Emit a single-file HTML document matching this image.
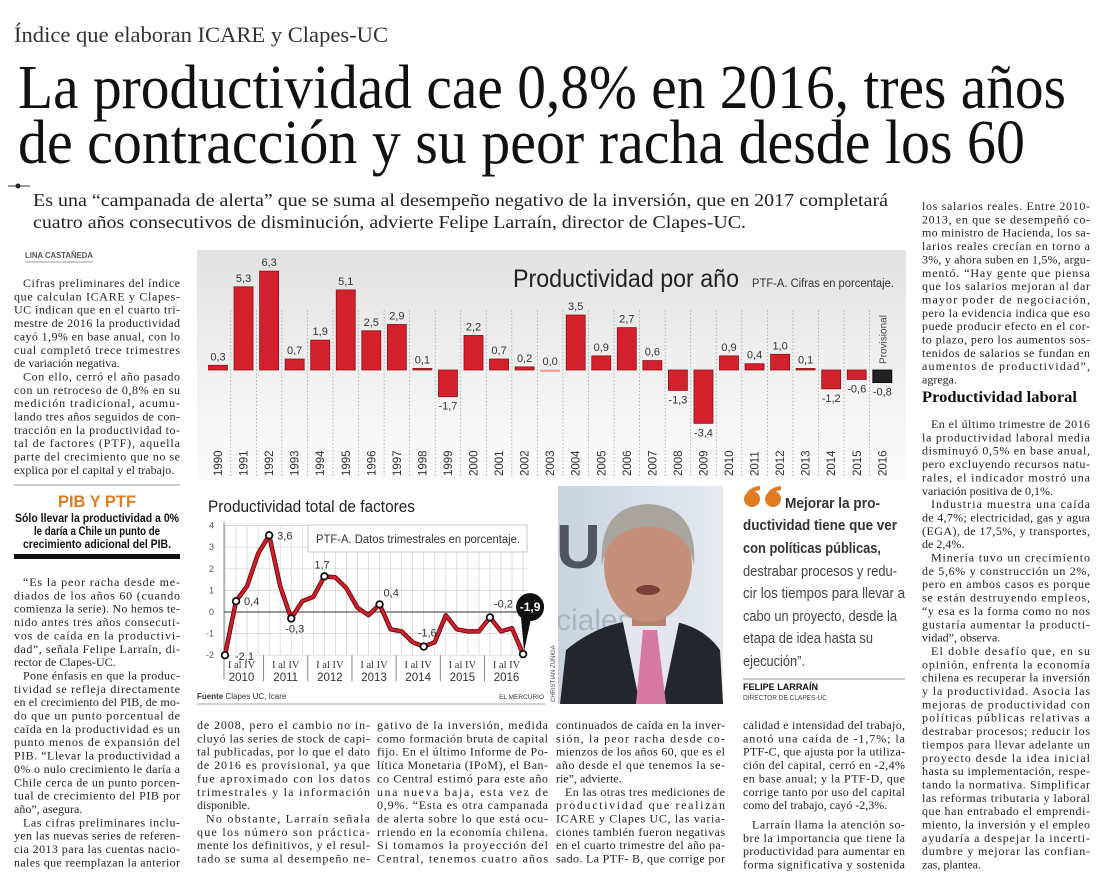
<!DOCTYPE html>
<html><head><meta charset="utf-8">
<style>
html,body{margin:0;padding:0;background:#fff;}
svg{display:block;}
.body{font-family:"Liberation Serif",serif;font-size:12px;fill:#222;}
.sans{font-family:"Liberation Sans",sans-serif;}
</style></head>
<body>
<svg id="page" width="1100" height="879" viewBox="0 0 1100 879" xmlns="http://www.w3.org/2000/svg">
<defs>
<linearGradient id="bgGrad" x1="0" y1="0" x2="0" y2="1">
<stop offset="0" stop-color="#e2e2e2"/><stop offset="0.6" stop-color="#f2f2f2"/><stop offset="1" stop-color="#fbfbfb"/>
</linearGradient>
<linearGradient id="photoBg" x1="0" y1="0" x2="1" y2="0">
<stop offset="0" stop-color="#c9d3e0"/><stop offset="1" stop-color="#e6eaf0"/>
</linearGradient>
<clipPath id="photoClip"><rect x="558" y="486" width="165" height="218"/></clipPath>
</defs>

<text x="14" y="42" font-family="Liberation Serif,serif" font-size="22" fill="#333" textLength="374" lengthAdjust="spacingAndGlyphs">Índice que elaboran ICARE y Clapes-UC</text>
<text x="18" y="108" font-family="Liberation Serif,serif" font-size="62" fill="#111" textLength="1048" lengthAdjust="spacingAndGlyphs">La productividad cae 0,8% en 2016, tres años</text>
<text x="18" y="163" font-family="Liberation Serif,serif" font-size="62" fill="#111" textLength="1007" lengthAdjust="spacingAndGlyphs">de contracción y su peor racha desde los 60</text>

<g><line x1="8" y1="186" x2="30" y2="186" stroke="#333" stroke-width="1"/><circle cx="18" cy="186" r="2.5" fill="#222"/></g>
<text x="33" y="206" font-family="Liberation Serif,serif" font-size="18" fill="#222" textLength="855" lengthAdjust="spacingAndGlyphs">Es una “campanada de alerta” que se suma al desempeño negativo de la inversión, que en 2017 completará</text>
<text x="33" y="228" font-family="Liberation Serif,serif" font-size="18" fill="#222" textLength="713" lengthAdjust="spacingAndGlyphs">cuatro años consecutivos de disminución, advierte Felipe Larraín, director de Clapes-UC.</text>

<text x="25" y="258" class="sans" font-size="8.5" font-weight="bold" fill="#555" textLength="68" lengthAdjust="spacingAndGlyphs">LINA CASTAÑEDA</text>
<line x1="25" y1="262" x2="93" y2="262" stroke="#777" stroke-width="0.8"/>

<line x1="14" y1="485" x2="180" y2="485" stroke="#999" stroke-width="1"/>
<text x="97" y="507" class="sans" font-size="17" font-weight="bold" fill="#e07b22" text-anchor="middle" textLength="78" lengthAdjust="spacingAndGlyphs">PIB Y PTF</text>
<text x="97" y="522" class="sans" font-size="12" font-weight="bold" fill="#111" text-anchor="middle" textLength="164" lengthAdjust="spacingAndGlyphs">Sólo llevar la productividad a 0%</text>
<text x="97" y="535" class="sans" font-size="12" font-weight="bold" fill="#111" text-anchor="middle" textLength="126" lengthAdjust="spacingAndGlyphs">le daría a Chile un punto de</text>
<text x="97" y="548" class="sans" font-size="12" font-weight="bold" fill="#111" text-anchor="middle" textLength="148" lengthAdjust="spacingAndGlyphs">crecimiento adicional del PIB.</text>
<rect x="14" y="554" width="166" height="5" fill="#111"/>

<g id="barChart">
<rect x="197" y="250" width="709" height="230" fill="url(#bgGrad)"/>
<text x="513" y="287" class="sans" font-size="25" fill="#222" textLength="226" lengthAdjust="spacingAndGlyphs">Productividad por año</text>
<text x="752" y="287" class="sans" font-size="11.5" fill="#333" textLength="142" lengthAdjust="spacingAndGlyphs">PTF-A. Cifras en porcentaje.</text>
</g>

<g id="lineChart">
<text x="208" y="512" class="sans" font-size="17" fill="#222" textLength="207" lengthAdjust="spacingAndGlyphs">Productividad total de factores</text>
</g>

<g clip-path="url(#photoClip)">
<rect x="558" y="486" width="165" height="218" fill="url(#photoBg)"/>
<text x="556" y="568" class="sans" font-size="62" font-weight="bold" fill="#3a3f4a" opacity="0.85">UC</text>
<text x="556" y="630" class="sans" font-size="30" fill="#aab4c2">ciales</text>
<path d="M560,704 L566,650 Q600,622 640,620 L660,620 Q700,622 720,650 L723,704 Z" fill="#24262d"/>
<path d="M622,618 L640,704 L662,704 L680,618 Z" fill="#e3e6ee"/>
<path d="M643,630 L657,630 L666,704 L636,704 Z" fill="#d679a0"/>
<rect x="632" y="590" width="34" height="36" fill="#b7826d"/>
<ellipse cx="648" cy="566" rx="44" ry="56" fill="#c4907a"/>
<path d="M602,566 Q598,506 648,504 Q698,506 694,566 Q688,528 648,526 Q608,528 602,566 Z" fill="#a9a49e"/>
<ellipse cx="648" cy="590" rx="12" ry="5" fill="#7a3f38"/>
</g>
<text transform="translate(555,702) rotate(-90)" class="sans" font-size="6" fill="#444">CHRISTIAN ZUÑIGA</text>

<g>
<g fill="#e07b22">
<circle cx="752" cy="499" r="8"/><path d="M745,497 Q748,487 760,486 L760,490 Q752,491 750,497 Z"/>
<circle cx="773" cy="499" r="8"/><path d="M766,497 Q769,487 781,486 L781,490 Q773,491 771,497 Z"/>
</g>
<text x="785" y="508" class="sans" font-size="15" font-weight="bold" fill="#333" textLength="95" lengthAdjust="spacingAndGlyphs">Mejorar la pro-</text>
<text x="743" y="530" class="sans" font-size="15" font-weight="bold" fill="#333" textLength="154" lengthAdjust="spacingAndGlyphs">ductividad tiene que ver</text>
<text x="743" y="553" class="sans" font-size="15" font-weight="bold" fill="#333" textLength="138" lengthAdjust="spacingAndGlyphs">con políticas públicas,</text>
<text x="743" y="576" class="sans" font-size="15" fill="#444" textLength="154" lengthAdjust="spacingAndGlyphs">destrabar procesos y redu-</text>
<text x="743" y="598" class="sans" font-size="15" fill="#444" textLength="162" lengthAdjust="spacingAndGlyphs">cir los tiempos para llevar a</text>
<text x="743" y="621" class="sans" font-size="15" fill="#444" textLength="154" lengthAdjust="spacingAndGlyphs">cabo un proyecto, desde la</text>
<text x="743" y="643" class="sans" font-size="15" fill="#444" textLength="130" lengthAdjust="spacingAndGlyphs">etapa de idea hasta su</text>
<text x="743" y="666" class="sans" font-size="15" fill="#444" textLength="62" lengthAdjust="spacingAndGlyphs">ejecución”.</text>
<line x1="743" y1="679" x2="905" y2="679" stroke="#999" stroke-width="1"/>
<text x="743" y="690" class="sans" font-size="9.5" font-weight="bold" fill="#111" textLength="75" lengthAdjust="spacingAndGlyphs">FELIPE LARRAÍN</text>
<text x="743" y="700" class="sans" font-size="7.5" fill="#444" textLength="84" lengthAdjust="spacingAndGlyphs">DIRECTOR DE CLAPES-UC</text>
</g>

<text x="922" y="402" font-family="Liberation Serif,serif" font-size="16" font-weight="bold" fill="#111" textLength="155" lengthAdjust="spacingAndGlyphs">Productividad laboral</text>

<g id="textCols"></g>
</svg>

<script>
const barYears = ["1990","1991","1992","1993","1994","1995","1996","1997","1998","1999","2000","2001","2002","2003","2004","2005","2006","2007","2008","2009","2010","2011","2012","2013","2014","2015","2016"];
const barValues = [0.3,5.3,6.3,0.7,1.9,5.1,2.5,2.9,0.1,-1.7,2.2,0.7,0.2,0.0,3.5,0.9,2.7,0.6,-1.3,-3.4,0.9,0.4,1.0,0.1,-1.2,-0.6,-0.8];
const barLabels = ["0,3","5,3","6,3","0,7","1,9","5,1","2,5","2,9","0,1","-1,7","2,2","0,7","0,2","0,0","3,5","0,9","2,7","0,6","-1,3","-3,4","0,9","0,4","1,0","0,1","-1,2","-0,6","-0,8"];

const qValues = [-2.0,0.5,1.2,2.7,3.55,1.2,-0.3,0.5,0.7,1.65,1.6,1.1,0.2,-0.15,0.35,-0.8,-0.9,-1.4,-1.6,-1.4,-0.15,-0.8,-0.9,-0.9,-0.25,-0.9,-0.75,-1.95];
const qMarkIdx = [0,1,4,6,9,14,18,24];
const qMarkLabels = ["-2,1","0,4","3,6","-0,3","1,7","0,4","-1,6","-0,2"];
const yTicks = [-2,-1,0,1,2,3,4];
const yearGroups = ["2010","2011","2012","2013","2014","2015","2016"];
const lastLabel = "-1,9";

const NS = "http://www.w3.org/2000/svg";
function mk(tag, attrs, parent){ const e=document.createElementNS(NS,tag); for(const k in attrs) e.setAttribute(k,attrs[k]); parent.appendChild(e); return e; }

(function(){
  const g = document.getElementById('barChart');
  const x = i => 218 + i*25.55;
  const y = v => 370 - v*15.7;
  const bw = 19;
  for(let i=0;i<barYears.length-1;i++){
    const sep = mk('line',{x1:x(i)+12.8,x2:x(i)+12.8,y1:310,y2:478,stroke:'#999','stroke-width':0.7,'stroke-dasharray':'1.5,2'},g);
    
    
  }
  barValues.forEach((v,i)=>{
    const last = i===barValues.length-1;
    const top = Math.min(y(v),y(0)), h = Math.max(Math.abs(y(v)-y(0)),1.5);
    const r = mk('rect',{x:x(i)-bw/2,y:top,width:bw,height:h,fill:last?'#222':(v===0?'#f19aa0':'#d2202c'),stroke:last?'#000':(v===0?'#f19aa0':'#8e1219'),'stroke-width':0.8},g);
    
    
    const ly = v>=0 ? y(v)-5 : y(v)+13;
    const t = mk('text',{x:x(i),y:ly,'text-anchor':'middle','font-family':'Liberation Sans,sans-serif','font-size':11,fill:'#333'},g);
    t.textContent = barLabels[i];
    
    
    const yl = mk('text',{transform:'translate('+(x(i)+4)+',476) rotate(-90)','font-family':'Liberation Sans,sans-serif','font-size':11.5,fill:'#333'},g);
    yl.textContent = barYears[i];
    
    
  });
  const pv = mk('text',{transform:'translate('+(x(barValues.length-1)+4)+',364) rotate(-90)','font-family':'Liberation Sans,sans-serif','font-size':10,fill:'#444'},g);
  pv.textContent='Provisional';
  
  
})();

(function(){
  const g = document.getElementById('lineChart');
  const L=224, R=528;
  const x = i => 225 + i*11.04;
  const y = v => 612 - v*21.6;
  for(let i=0;i<qValues.length;i++){
    const vl = mk('line',{x1:x(i),x2:x(i),y1:y(4),y2:y(-2),stroke:'#d0d0d0','stroke-width':0.7},g);
    
    
  }
  yTicks.forEach(v=>{
    const hl = mk('line',{x1:L,x2:R,y1:y(v),y2:y(v),stroke:v===0?'#333':'#d0d0d0','stroke-width':v===0?1:0.7},g);
    
    
    const t = mk('text',{x:214,y:y(v)+3,'text-anchor':'end','font-family':'Liberation Sans,sans-serif','font-size':9,fill:'#555'},g);
    t.textContent = v;
    
    
  });
  const ax = mk('line',{x1:L,x2:L,y1:y(4)-4,y2:y(-2)+24,stroke:'#666','stroke-width':0.8},g);
  
  
  yearGroups.forEach((yr,k)=>{
    const gx0 = 225 + (k*4-0.5)*11.04, gx1 = gx0 + 4*11.04;
    if(k>0){
      const s = mk('line',{x1:gx0,x2:gx0,y1:y(-2),y2:y(-2)+26,stroke:'#666','stroke-width':0.8},g);
      
      
    }
    const cx=(gx0+gx1)/2;
    const t1 = mk('text',{x:cx,y:668,'text-anchor':'middle','font-family':'Liberation Serif,serif','font-size':10.5,fill:'#333'},g);
    t1.textContent='I al IV';
    
    
    const t2 = mk('text',{x:cx,y:681,'text-anchor':'middle','font-family':'Liberation Sans,sans-serif','font-size':11.5,fill:'#333'},g);
    t2.textContent=yr;
    
    
  });
  const lb = mk('rect',{x:308,y:525,width:219,height:27,fill:'#fff',stroke:'#bbb','stroke-width':0.8},g);
  
  
  const lt = mk('text',{x:316,y:543,'font-family':'Liberation Sans,sans-serif','font-size':11.5,fill:'#333',textLength:204,lengthAdjust:'spacingAndGlyphs'},g);
  lt.textContent='PTF-A. Datos trimestrales en porcentaje.';
  
  
  const pts = qValues.map((v,i)=>x(i).toFixed(1)+','+y(v).toFixed(1)).join(' ');
  const l1 = mk('polyline',{points:pts,fill:'none',stroke:'#6d0a0f','stroke-width':4.5,'stroke-linejoin':'round','stroke-linecap':'round'},g);
  
  
  const l2 = mk('polyline',{points:pts,fill:'none',stroke:'#d11f2a','stroke-width':2.6,'stroke-linejoin':'round','stroke-linecap':'round'},g);
  
  
  const offs = [[10,5],[8,4],[8,4],[-6,14],[-10,-8],[4,-8],[-6,-10],[4,-10]];
  qMarkIdx.forEach((idx,k)=>{
    const c = mk('circle',{cx:x(idx),cy:y(qValues[idx]),r:3.3,fill:'#fff',stroke:'#111','stroke-width':1.8},g);
    
    
    const t = mk('text',{x:x(idx)+offs[k][0],y:y(qValues[idx])+offs[k][1],'font-family':'Liberation Sans,sans-serif','font-size':11,fill:'#333'},g);
    t.textContent = qMarkLabels[k];
    
    
  });
  const li = qValues.length-1, lx=x(li), ly=y(qValues[li]);
  const ptr = mk('path',{d:'M'+(lx+1)+','+(ly-3)+' L'+(lx-2)+','+(ly-36)+' L'+(lx+8)+','+(ly-36)+' Z',fill:'#111'},g);
  
  
  const cc = mk('circle',{cx:lx+7,cy:ly-47,r:14,fill:'#111'},g);
  
  
  const lp = mk('circle',{cx:lx,cy:ly,r:3.3,fill:'#fff',stroke:'#111','stroke-width':1.8},g);
  
  
  const ct = mk('text',{x:lx+7,y:ly-43,'text-anchor':'middle','font-family':'Liberation Sans,sans-serif','font-size':12,'font-weight':'bold',fill:'#fff'},g);
  ct.textContent = lastLabel;
  
  
  const fu = mk('text',{x:197,y:699,'font-family':'Liberation Sans,sans-serif','font-size':8,fill:'#333'},g);
  fu.innerHTML = '<tspan font-weight="bold">Fuente</tspan> Clapes UC, Icare';
  
  
  const em = mk('text',{x:544,y:699,'text-anchor':'end','font-family':'Liberation Sans,sans-serif','font-size':6.5,fill:'#333'},g);
  em.textContent='EL MERCURIO';
  
  
  const fr = mk('line',{x1:197,x2:545,y1:704,y2:704,stroke:'#888','stroke-width':0.8},g);
  
  
})();

const LH = 13.35;
function col(name, x0, x1, y0, paras){
  const g = document.getElementById('textCols');
  let y = y0;
  paras.forEach(p=>{
    if(p.gap) y += p.gap;
    p.l.forEach((ln,i)=>{
      const ind = (i===0 && !p.c) ? 9 : 0;
      const t = document.createElementNS(NS,'text');
      t.setAttribute('x', x0+ind);
      t.setAttribute('y', y.toFixed(1));
      t.setAttribute('class','body');
      const isLast = (i===p.l.length-1) && !p.o;
      if(!isLast){ t.setAttribute('textLength', x1-x0-ind); t.setAttribute('lengthAdjust','spacing'); }
      t.textContent = ln;
      
      
      g.appendChild(t);
      y += LH;
    });
  });
}
col('column-1-top',14,180,287,[
 {l:["Cifras preliminares del índice","que calculan ICARE y Clapes-","UC indican que en el cuarto tri-","mestre de 2016 la productividad","cayó 1,9% en base anual, con lo","cual completó trece trimestres","de variación negativa."]},
 {l:["Con ello, cerró el año pasado","con un retroceso de 0,8% en su","medición tradicional, acumu-","lando tres años seguidos de con-","tracción en la productividad to-","tal de factores (PTF), aquella","parte del crecimiento que no se","explica por el capital y el trabajo."]}
]);
col('column-1-bottom',14,180,586,[
 {l:["“Es la peor racha desde me-","diados de los años 60 (cuando","comienza la serie). No hemos te-","nido antes tres años consecuti-","vos de caída en la productivi-","dad”, señala Felipe Larraín, di-","rector de Clapes-UC."]},
 {l:["Pone énfasis en que la produc-","tividad se refleja directamente","en el crecimiento del PIB, de mo-","do que un punto porcentual de","caída en la productividad es un","punto menos de expansión del","PIB. “Llevar la productividad a","0% o nulo crecimiento le daría a","Chile cerca de un punto porcen-","tual de crecimiento del PIB por","año”, asegura."]},
 {o:true,l:["Las cifras preliminares inclu-","yen las nuevas series de referen-","cia 2013 para las cuentas nacio-","nales que reemplazan la anterior"]}
]);
col('column-2',197,370,729,[
 {c:true,l:["de 2008, pero el cambio no in-","cluyó las series de stock de capi-","tal publicadas, por lo que el dato","de 2016 es provisional, ya que","fue aproximado con los datos","trimestrales y la información","disponible."]},
 {o:true,l:["No obstante, Larraín señala","que los número son práctica-","mente los definitivos, y el resul-","tado se suma al desempeño ne-"]}
]);
col('column-3',377,548,729,[
 {c:true,o:true,l:["gativo de la inversión, medida","como formación bruta de capital","fijo. En el último Informe de Po-","lítica Monetaria (IPoM), el Ban-","co Central estimó para este año","una nueva baja, esta vez de","0,9%. “Esta es otra campanada","de alerta sobre lo que está ocu-","rriendo en la economía chilena.","Si tomamos la proyección del","Central, tenemos cuatro años"]}
]);
col('column-4',556,725,729,[
 {c:true,l:["continuados de caída en la inver-","sión, la peor racha desde co-","mienzos de los años 60, que es el","año desde el que tenemos la se-","rie”, advierte."]},
 {o:true,l:["En las otras tres mediciones de","productividad que realizan","ICARE y Clapes UC, las varia-","ciones también fueron negativas","en el cuarto trimestre del año pa-","sado. La PTF- B, que corrige por"]}
]);
col('column-5',743,905,729,[
 {c:true,l:["calidad e intensidad del trabajo,","anotó una caída de -1,7%; la","PTF-C, que ajusta por la utiliza-","ción del capital, cerró en -2,4%","en base anual; y la PTF-D, que","corrige tanto por uso del capital","como del trabajo, cayó -2,3%."]},
 {o:true,gap:6,l:["Larraín llama la atención so-","bre la importancia que tiene la","productividad para aumentar en","forma significativa y sostenida"]}
]);
col('column-6-top',922,1090,210,[
 {c:true,l:["los salarios reales. Entre 2010-","2013, en que se desempeñó co-","mo ministro de Hacienda, los sa-","larios reales crecían en torno a","3%, y ahora suben en 1,5%, argu-","mentó. “Hay gente que piensa","que los salarios mejoran al dar","mayor poder de negociación,","pero la evidencia indica que eso","puede producir efecto en el cor-","to plazo, pero los aumentos sos-","tenidos de salarios se fundan en","aumentos de productividad”,","agrega."]}
]);
col('column-6-bottom',922,1090,428,[
 {l:["En el último trimestre de 2016","la productividad laboral media","disminuyó 0,5% en base anual,","pero excluyendo recursos natu-","rales, el indicador mostró una","variación positiva de 0,1%."]},
 {l:["Industria muestra una caída","de 4,7%; electricidad, gas y agua","(EGA), de 17,5%, y transportes,","de 2,4%."]},
 {l:["Minería tuvo un crecimiento","de 5,6% y construcción un 2%,","pero en ambos casos es porque","se están destruyendo empleos,","“y esa es la forma como no nos","gustaría aumentar la producti-","vidad”, observa."]},
 {l:["El doble desafío que, en su","opinión, enfrenta la economía","chilena es recuperar la inversión","y la productividad. Asocia las","mejoras de productividad con","políticas públicas relativas a","destrabar procesos; reducir los","tiempos para llevar adelante un","proyecto desde la idea inicial","hasta su implementación, respe-","tando la normativa. Simplificar","las reformas tributaria y laboral","que han entrabado el emprendi-","miento, la inversión y el empleo","ayudaría a despejar la incerti-","dumbre y mejorar las confian-","zas, plantea."]}
]);
</script>
</body></html>
